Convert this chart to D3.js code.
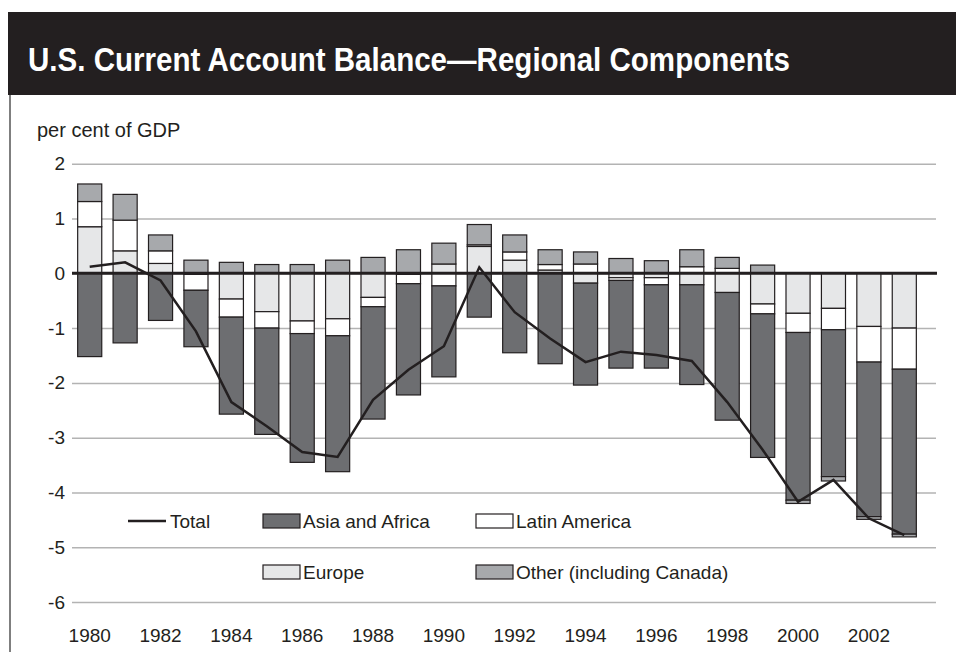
<!DOCTYPE html>
<html><head><meta charset="utf-8">
<script src="https://cdn.jsdelivr.net/npm/d3@7"></script>
<style>body{margin:0;background:#fff}svg{display:block}</style>
</head><body>
<svg id="c" width="956" height="659"></svg>
<script>
const years = d3.range(1980, 2004);
const europe = [0.85,0.41,0.18,-0.02,-0.47,-0.70,-0.87,-0.83,-0.44,-0.02,0.17,0.49,0.24,0.06,-0.18,-0.08,-0.08,-0.21,-0.35,-0.56,-0.73,-0.64,-0.97,-1.00];
const latinAmerica = [0.46,0.56,0.23,-0.29,-0.33,-0.30,-0.23,-0.31,-0.17,-0.17,-0.23,0.03,0.15,0.10,0.17,-0.05,-0.13,0.12,0.09,-0.18,-0.35,-0.39,-0.65,-0.75];
const asiaAfrica = [-1.52,-1.27,-0.86,-1.03,-1.77,-1.94,-2.35,-2.48,-2.05,-2.03,-1.66,-0.80,-1.45,-1.65,-1.86,-1.60,-1.52,-1.82,-2.33,-2.62,-3.06,-2.68,-2.82,-3.01];
const other = [0.32,0.47,0.29,0.24,0.20,0.16,0.16,0.24,0.29,0.43,0.38,0.37,0.31,0.27,0.22,0.27,0.23,0.31,0.20,0.15,-0.06,-0.08,-0.05,-0.05];
const total = [0.12,0.20,-0.13,-1.06,-2.35,-2.79,-3.26,-3.35,-2.31,-1.76,-1.33,0.11,-0.71,-1.19,-1.62,-1.43,-1.49,-1.60,-2.35,-3.22,-4.17,-3.77,-4.47,-4.78];
const yTicks = [2,1,0,-1,-2,-3,-4,-5,-6];
const xTickYears = [1980,1982,1984,1986,1988,1990,1992,1994,1996,1998,2000,2002];
const titleText = "U.S. Current Account Balance\u2014Regional Components";
const unitText = "per cent of GDP";

const seriesKeys = ["Europe","Latin America","Asia and Africa","Other (including Canada)"];
const colors = {"Europe":"#e6e7e8","Latin America":"#ffffff","Asia and Africa":"#6d6e71","Other (including Canada)":"#a7a9ac"};
const ink = "#231f20";

const table = years.map((y,i)=>({year:y,"Europe":europe[i],"Latin America":latinAmerica[i],"Asia and Africa":asiaAfrica[i],"Other (including Canada)":other[i]}));

const svg = d3.select("#c");
const font = "'Liberation Sans', Arial, Helvetica, sans-serif";

// title bar
svg.append("rect").attr("x",8).attr("y",12).attr("width",948).attr("height",83).attr("fill",ink);
const t = svg.append("text").attr("x",28).attr("y",71).attr("fill","#fff")
  .attr("font-family","'Liberation Sans', Arial, sans-serif")
  .attr("font-weight","bold").attr("font-size",33).text(titleText);
t.attr("textLength",762).attr("lengthAdjust","spacingAndGlyphs");
// left frame line
svg.append("line").attr("x1",10).attr("x2",10).attr("y1",95).attr("y2",652).attr("stroke","#555").attr("stroke-width",1.5);

svg.append("text").attr("x",37).attr("y",137).attr("fill",ink).attr("font-family",font).attr("font-size",20).text(unitText);

const x = d3.scaleBand().domain(years).range([72,922]).paddingInner(0.32).paddingOuter(0.16);
const y = d3.scaleLinear().domain([-6,2]).range([602.1,163.7]);

// gridlines
const yAxis = d3.axisLeft(y).tickValues(yTicks).tickSize(-864).tickFormat(d=>String(d)).tickPadding(7);
const ga = svg.append("g").attr("transform","translate(72,0)").call(yAxis);
ga.select(".domain").remove();
ga.selectAll(".tick line").attr("stroke","#b3b3b3").attr("stroke-width",1.5);
ga.selectAll(".tick text").attr("font-family",font).attr("font-size",19).attr("fill",ink);

// bars
const stack = d3.stack().keys(seriesKeys).offset(d3.stackOffsetDiverging);
const layers = stack(table);
svg.append("g").selectAll("g").data(layers).join("g")
  .attr("fill",d=>colors[d.key])
  .selectAll("rect").data(d=>d).join("rect")
  .attr("x",d=>x(d.data.year)).attr("width",x.bandwidth())
  .attr("y",d=>y(Math.max(d[0],d[1]))).attr("height",d=>Math.abs(y(d[0])-y(d[1])))
  .attr("stroke",ink).attr("stroke-width",1.2);

// zero line
svg.append("line").attr("x1",72).attr("x2",937).attr("y1",y(0)).attr("y2",y(0)).attr("stroke",ink).attr("stroke-width",3);

// total line
svg.append("path").datum(total).attr("fill","none").attr("stroke",ink).attr("stroke-width",2.5).attr("stroke-linejoin","miter")
  .attr("d",d3.line().x((d,i)=>x(years[i])+x.bandwidth()/2).y(d=>y(d)));

// x labels
const xAxis = d3.axisBottom(x).tickValues(xTickYears).tickSize(0).tickPadding(0);
const gx = svg.append("g").attr("transform","translate(0,628)").call(xAxis);
gx.select(".domain").remove();
gx.selectAll(".tick text").attr("font-family",font).attr("font-size",19).attr("fill",ink).attr("dy","0.71em");

// legend
const lg = svg.append("g").attr("font-family",font).attr("font-size",19).attr("fill",ink);
lg.append("line").attr("x1",128).attr("x2",166).attr("y1",521).attr("y2",521).attr("stroke",ink).attr("stroke-width",2.5);
lg.append("text").attr("x",170).attr("y",528).text("Total");
const legItems = [
  {key:"Asia and Africa",x:263,y:521},
  {key:"Latin America",x:476,y:521},
  {key:"Europe",x:263,y:572},
  {key:"Other (including Canada)",x:476,y:572}
];
legItems.forEach(it=>{
  lg.append("rect").attr("x",it.x).attr("y",it.y-7).attr("width",37).attr("height",14).attr("fill",colors[it.key]).attr("stroke",ink).attr("stroke-width",1.2);
  lg.append("text").attr("x",it.x+40).attr("y",it.y+7).text(it.key);
});
</script>
</body></html>
